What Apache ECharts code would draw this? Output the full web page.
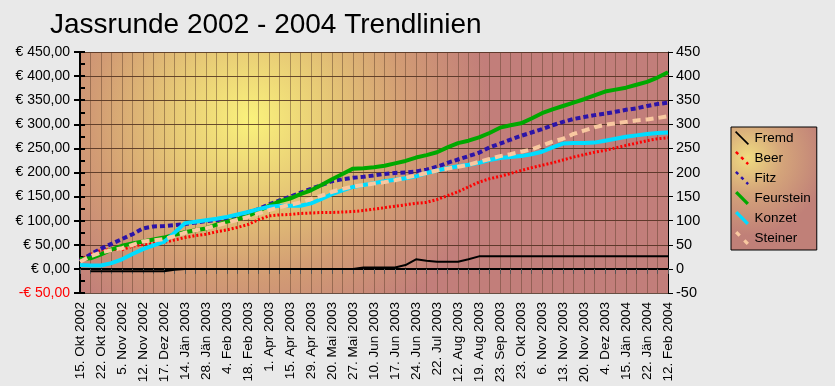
<!DOCTYPE html>
<html><head><meta charset="utf-8">
<script src="https://cdn.jsdelivr.net/npm/echarts@6/dist/echarts.min.js"></script>
<style>html,body{margin:0;padding:0;background:#e9e9e9;}#c{width:835px;height:386px;}</style>
</head><body><div id="c"></div>
<script>
const categories = ['15. Okt 2002','18. Okt 2002','22. Okt 2002','29. Okt 2002','5. Nov 2002','8. Nov 2002','12. Nov 2002','26. Nov 2002','17. Dez 2002','7. Jän 2003','14. Jän 2003','21. Jän 2003','28. Jän 2003','31. Jän 2003','4. Feb 2003','11. Feb 2003','18. Feb 2003','11. Mär 2003','1. Apr 2003','8. Apr 2003','15. Apr 2003','22. Apr 2003','29. Apr 2003','6. Mai 2003','20. Mai 2003','23. Mai 2003','27. Mai 2003','3. Jun 2003','10. Jun 2003','13. Jun 2003','17. Jun 2003','20. Jun 2003','24. Jun 2003','8. Jul 2003','22. Jul 2003','29. Jul 2003','12. Aug 2003','15. Aug 2003','19. Aug 2003','2. Sep 2003','23. Sep 2003','7. Okt 2003','23. Okt 2003','30. Okt 2003','6. Nov 2003','10. Nov 2003','13. Nov 2003','17. Nov 2003','20. Nov 2003','27. Nov 2003','4. Dez 2003','18. Dez 2003','15. Jän 2004','19. Jän 2004','22. Jän 2004','29. Jän 2004','12. Feb 2004'];

const fremd = [null,-5,-5,-5,-5,-5,-5,-5,-5,-2,0,0,0,0,0,0,0,0,0,0,0,0,0,0,0,0,0,3,3,3,3,8,20,17,15,15,15,20,26,26,26,26,26,26,26,26,26,26,26,26,26,26,26,26,26,26,26];
const beer = [19,30,39,40,40,47,51,53,55,60,65,69,72,77,81,86,92,102,110,112,113,115,116,117,117,118,119,121,124,127,130,133,136,138,144,152,160,170,180,187,192,198,204,210,215,220,226,232,237,242,246,251,256,261,266,270,272];
const fitz = [17,30,42,52,62,72,84,88,89,91,93,96,99,101,105,111,117,124,134,142,150,158,166,174,182,186,189,191,194,197,199,200,202,206,212,220,227,234,241,252,260,268,276,283,290,298,305,311,315,319,322,326,330,333,338,342,345];
const feurstein = [20,22,30,40,48,53,57,61,65,71,76,80,84,92,98,103,110,120,131,140,146,155,163,174,186,197,208,209,211,214,219,224,231,236,242,252,261,266,273,282,293,298,302,312,323,331,338,345,352,360,368,372,376,382,388,397,408];
const konzet = [8,7,7,12,20,31,41,49,56,75,95,98,101,104,108,113,118,124,129,131,131,131,136,145,155,163,170,174,178,182,185,188,192,199,204,209,213,216,220,226,230,232,234,238,243,252,260,261,261,262,266,270,274,277,280,282,283];
const steiner = [15,26,34,39,43,50,57,59,62,68,75,80,84,90,96,102,108,115,122,128,133,138,145,152,160,166,171,174,177,180,184,189,194,199,204,208,212,216,222,228,234,238,243,248,256,264,270,280,287,294,299,302,305,308,310,313,317];

const seriesNames = ['Fremd','Beer','Fitz','Feurstein','Konzet','Steiner'];
const seriesData = [fremd, beer, fitz, feurstein, konzet, steiner];
const colors = ['#000000','#ff0000','#2c14a8','#00a800','#00dcff','#f8c8a0'];
const widths = [2,3,4,4,4,4];
const dashes = ['solid',[2,2],[5,3],'solid','solid',[8,5]];
const icons = [
  'path://M0,1 L1,0 L12,11 L11,12 Z',
  'path://M0,1.5 L1.5,0 L3.5,2 L2,3.5 Z M4.5,6 L6,4.5 L8,6.5 L6.5,8 Z M9,10.5 L10.5,9 L12,10.5 L10.5,12 Z',
  'path://M0,1.5 L1.5,0 L3.5,2 L2,3.5 Z M4.5,6 L6,4.5 L8,6.5 L6.5,8 Z M9,10.5 L10.5,9 L12,10.5 L10.5,12 Z',
  'path://M0,2 L2,0 L12,10 L10,12 Z',
  'path://M0,2 L2,0 L12,10 L10,12 Z',
  'path://M0,2 L2,0 L5,3 L3,5 Z M7,9 L9,7 L12,10 L10,12 Z'
];

const chart = echarts.init(document.getElementById('c'), null, {renderer:'canvas'});
const fontFam = '"Liberation Sans", Arial, sans-serif';
function euro(v){ const s = Math.abs(v).toFixed(2).replace('.', ','); return (v<0?'-':'') + '€ ' + s; }

chart.setOption({
  backgroundColor: '#e9e9e9',
  animation: false,
  title: {
    text: 'Jassrunde 2002 - 2004 Trendlinien',
    left: 45, top: 6,
    textStyle: {fontFamily: fontFam, fontSize: 28, fontWeight: 'normal', color: '#000'}
  },
  legend: {
    orient: 'vertical', left: 731, top: 127,
    padding: [4,6,5,4], itemGap: 6, itemWidth: 15, itemHeight: 14,
    borderColor: '#000', borderWidth: 1,
    backgroundColor: {type:'radial', x:0.2, y:0.25, r:0.9, colorStops:[{offset:0,color:'#f0dc80'},{offset:0.45,color:'#d4a47a'},{offset:1,color:'#c08078'}]},
    textStyle: {fontFamily: fontFam, fontSize: 13.5, color: '#000'},
    data: seriesNames.map((n,i)=>({name:n, icon: icons[i]}))
  },
  grid: {
    left: 80, right: 167, top: 52, bottom: 93, show: true, borderWidth: 0,
    containLabel: false, outerBoundsMode: 'none',
    backgroundColor: {type:'radial', x:0.29, y:0.28, r:1.0, colorStops:[
      {offset:0,color:'#faf27c'},{offset:0.3,color:'#e8cc76'},{offset:0.65,color:'#d29c74'},{offset:1,color:'#c27e7a'}]}
  },
  xAxis: {
    type: 'category', boundaryGap: false, data: categories,
    axisLine: {lineStyle: {color:'#000', width: 2}},
    axisTick: {show: true, interval: 0, length: 5, lineStyle: {color:'#555'}},
    axisLabel: {interval: 1, rotate: 90, margin: 9, fontFamily: fontFam, fontSize: 13.5, color: '#000'},
    splitLine: {show: true, interval: 0, lineStyle: {color: 'rgba(90,60,40,0.45)', width: 1}}
  },
  yAxis: [
    {
      type: 'value', position: 'left', min: -50, max: 450, interval: 50,
      axisLine: {show: true, lineStyle: {color:'#000', width: 2}},
      axisTick: {show: true, length: 6, lineStyle: {color:'#000', width: 2}},
      axisLabel: {margin: 10, fontFamily: fontFam, fontSize: 14, formatter: euro,
        color: function(v){ return Number(v) < 0 ? '#ff0000' : '#000'; }},
      splitLine: {show: true, lineStyle: {color: 'rgba(70,40,25,0.8)', width: 1}}
    },
    {
      type: 'value', position: 'right', min: -50, max: 450, interval: 50,
      axisLine: {show: true, lineStyle: {color:'#000', width: 1}},
      axisTick: {show: true, length: 5, lineStyle: {color:'#000'}},
      axisLabel: {margin: 8, fontFamily: fontFam, fontSize: 14.5, color: '#000'},
      splitLine: {show: false}
    },
    {
      type: 'value', position: 'left', min: -50, max: 450, interval: 25,
      axisLine: {show: false},
      axisTick: {show: true, inside: true, length: 5, lineStyle: {color:'#000', width: 2}},
      axisLabel: {show: false},
      splitLine: {show: false}
    }
  ],
  series: seriesNames.map((n,i)=>({
    name: n, type: 'line', yAxisIndex: 0, data: seriesData[i],
    symbol: 'none', smooth: false, connectNulls: false,
    color: colors[i],
    itemStyle: {color: colors[i]},
    lineStyle: {color: colors[i], width: widths[i], type: dashes[i], cap: 'butt'},
    z: 2 + i
  }))
});
</script>
</body></html>
